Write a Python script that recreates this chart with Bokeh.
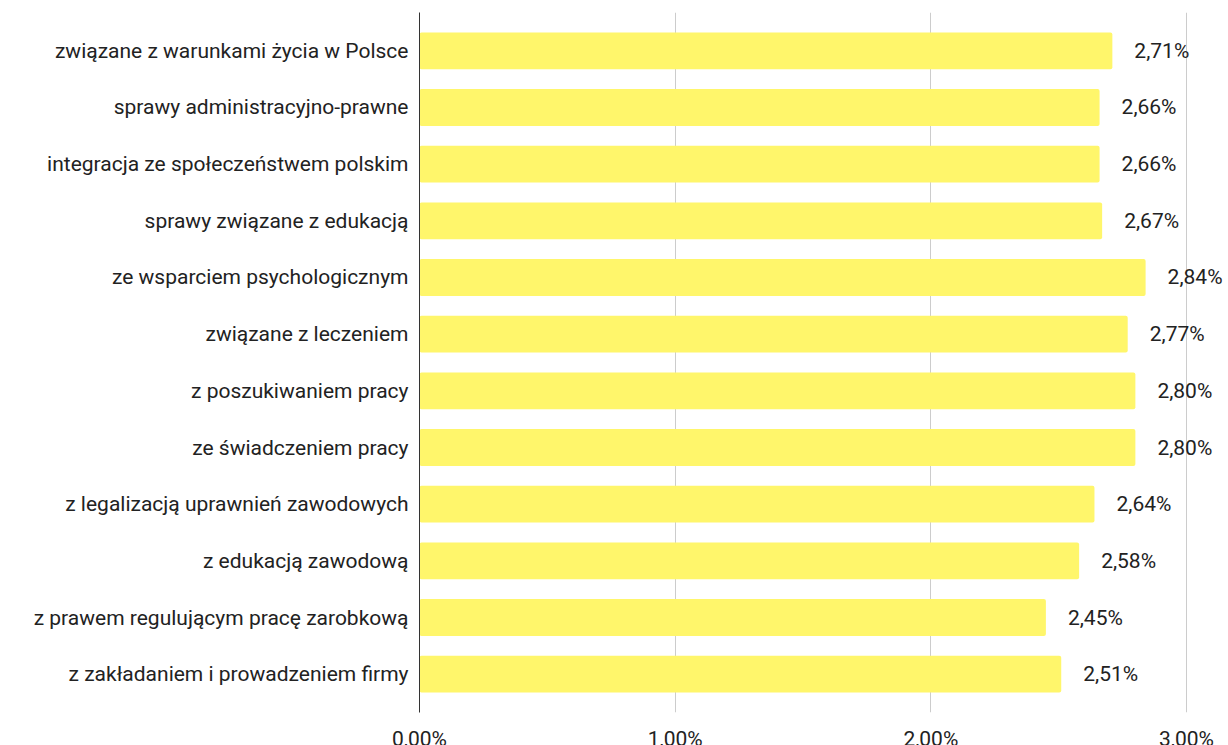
from bokeh.plotting import figure
from bokeh.models import ColumnDataSource, FixedTicker, CustomJSTickFormatter, FactorRange, Range1d
from bokeh.core.properties import value
from bokeh.embed import file_html
from bokeh.resources import INLINE

categories = [
    "związane z warunkami życia w Polsce",
    "sprawy administracyjno-prawne",
    "integracja ze społeczeństwem polskim",
    "sprawy związane z edukacją",
    "ze wsparciem psychologicznym",
    "związane z leczeniem",
    "z poszukiwaniem pracy",
    "ze świadczeniem pracy",
    "z legalizacją uprawnień zawodowych",
    "z edukacją zawodową",
    "z prawem regulującym pracę zarobkową",
    "z zakładaniem i prowadzeniem firmy",
]
values = [2.71, 2.66, 2.66, 2.67, 2.84, 2.77, 2.80, 2.80, 2.64, 2.58, 2.45, 2.51]
tick_values = [0, 1, 2, 3]

labels = [f"{v:.2f}".replace(".", ",") + "%" for v in values]
src = ColumnDataSource(dict(cat=categories, val=values, lab=labels))

FONT = "Roboto"
FS = "21px"

p = figure(
    frame_width=809, frame_height=700,
    y_range=FactorRange(factors=categories[::-1], range_padding=0.176, range_padding_units="absolute"),
    x_range=Range1d(0, 809 / 255.67),
    output_backend="svg", toolbar_location=None,
    min_border_left=419, min_border_right=0, min_border_top=12, min_border_bottom=0,
)
p.outline_line_color = None
p.background_fill_color = "white"

p.hbar(y="cat", right="val", left=0, height=0.65, source=src,
       fill_color="#FFF66B", line_color=None, border_radius=2)

p.text(x="val", y="cat", text="lab", source=src, x_offset=22,
       text_baseline="middle", text_align="left",
       text_font=value(FONT), text_font_size=FS, text_color="#222222")

# grids
p.ygrid.grid_line_color = None
p.xgrid.ticker = FixedTicker(ticks=tick_values)
p.xgrid.grid_line_color = "#cccccc"
p.xgrid.grid_line_width = 1

# x axis
p.xaxis.ticker = FixedTicker(ticks=tick_values)
p.xaxis.formatter = CustomJSTickFormatter(code="return tick.toFixed(2).replace('.', ',') + '%';")
p.xaxis.axis_line_color = None
p.xaxis.major_tick_line_color = None
p.xaxis.minor_tick_line_color = None
p.xaxis.major_tick_out = 0
p.xaxis.major_label_standoff = 14
p.xaxis.major_label_text_font = FONT
p.xaxis.major_label_text_font_size = FS
p.xaxis.major_label_text_color = "#222222"

# y axis
p.yaxis.axis_line_color = "#333333"
p.yaxis.axis_line_width = 1
p.yaxis.major_tick_line_color = None
p.yaxis.minor_tick_line_color = None
p.yaxis.major_tick_out = 0
p.yaxis.major_label_standoff = 11
p.yaxis.major_label_text_font = FONT
p.yaxis.major_label_text_font_size = FS
p.yaxis.major_label_text_color = "#222222"

open("out.html", "w").write(file_html(p, INLINE))
